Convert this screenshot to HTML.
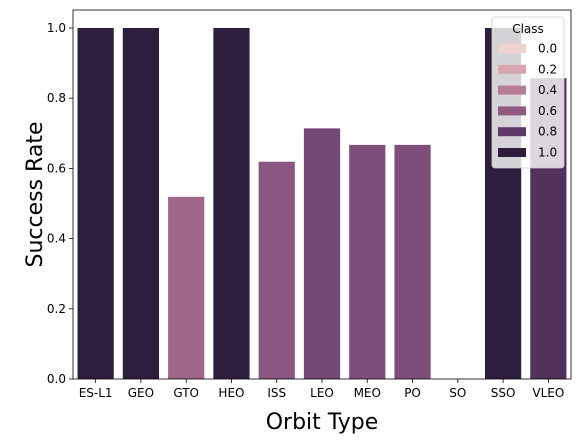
<!DOCTYPE html>
<html><head><meta charset="utf-8"><style>
body{margin:0;background:#fff;font-family:"Liberation Sans","DejaVu Sans",sans-serif;overflow:hidden}
svg{display:block}
</style></head><body>
<svg width="581" height="446" id="chart" font-family="DejaVu Sans, Liberation Sans, sans-serif"></svg>
<script>
const categories=["ES-L1","GEO","GTO","HEO","ISS","LEO","MEO","PO","SO","SSO","VLEO"];
const successRates=[1.0,1.0,0.519,1.0,0.619,0.714,0.667,0.667,0.0,1.0,0.857];
const yTicks=[0.0,0.2,0.4,0.6,0.8,1.0];
const legendClasses=[0.0,0.2,0.4,0.6,0.8,1.0];
const legendColors=["#efd2cf","#d8a5ac","#b77b96","#8e5a82","#5e3a69","#2d1e3e"];

const NS="http://www.w3.org/2000/svg";
const svg=document.getElementById('chart');
const L=73,R=571,T=10,B=379;
const y=v=>B-v*(B-28);
const band=(R-L)/categories.length;
const x=i=>L+band*i;
function hex(c){return [1,3,5].map(k=>parseInt(c.substr(k,2),16));}
function colorFor(v){
  const t=v/0.2;let i=Math.min(Math.floor(t),4);const f=t-i;
  const a=hex(legendColors[i]),b=hex(legendColors[i+1]);
  return 'rgb('+a.map((q,k)=>Math.round(q+(b[k]-q)*f)).join(',')+')';
}
function el(tag,attrs,parent){const e=document.createElementNS(NS,tag);for(const k in attrs)e.setAttribute(k,attrs[k]);(parent||svg).appendChild(e);return e;}

categories.forEach((c,i)=>{
  const v=successRates[i];
  const r=el('rect',{x:x(i)+band*0.1,y:y(v),width:band*0.8,height:B-y(v),fill:colorFor(v)});
  
  
  el('line',{x1:x(i)+band/2,x2:x(i)+band/2,y1:B,y2:B+4,stroke:'#000','stroke-width':0.8});
  const t=el('text',{x:x(i)+band/2,y:B+18,'text-anchor':'middle','font-size':12});
  t.textContent=c;
  
  
});
yTicks.forEach(v=>{
  el('line',{x1:L-4,x2:L,y1:y(v),y2:y(v),stroke:'#000','stroke-width':0.8});
  const t=el('text',{x:L-7,y:y(v)+4,'text-anchor':'end','font-size':12});
  t.textContent=v.toFixed(1);
  
  
});
const frame=el('rect',{x:L,y:T,width:R-L,height:B-T,fill:'none',stroke:'#000','stroke-width':0.8});


const xt=el('text',{x:(L+R)/2,y:429,'text-anchor':'middle','font-size':22});
xt.textContent='Orbit Type';


const yt=el('text',{x:0,y:0,'text-anchor':'middle','font-size':22,transform:'translate(42,'+((T+B)/2)+') rotate(-90)'});
yt.textContent='Success Rate';



const lg=el('g',{});


el('rect',{x:492,y:17,width:72,height:151,rx:3,fill:'#fff','fill-opacity':0.8,stroke:'#ccc','stroke-width':0.8},lg);
const lt=el('text',{x:528,y:33,'text-anchor':'middle','font-size':12},lg);
lt.textContent='Class';
legendClasses.forEach((c,i)=>{
  const yy=48+i*20.8;
  const p=el('rect',{x:498,y:yy-4,width:28,height:9,fill:legendColors[i]},lg);
  
  
  const t=el('text',{x:538,y:yy+4.5,'font-size':12},lg);
  t.textContent=c.toFixed(1);
  
  
});
</script>
</body></html>
